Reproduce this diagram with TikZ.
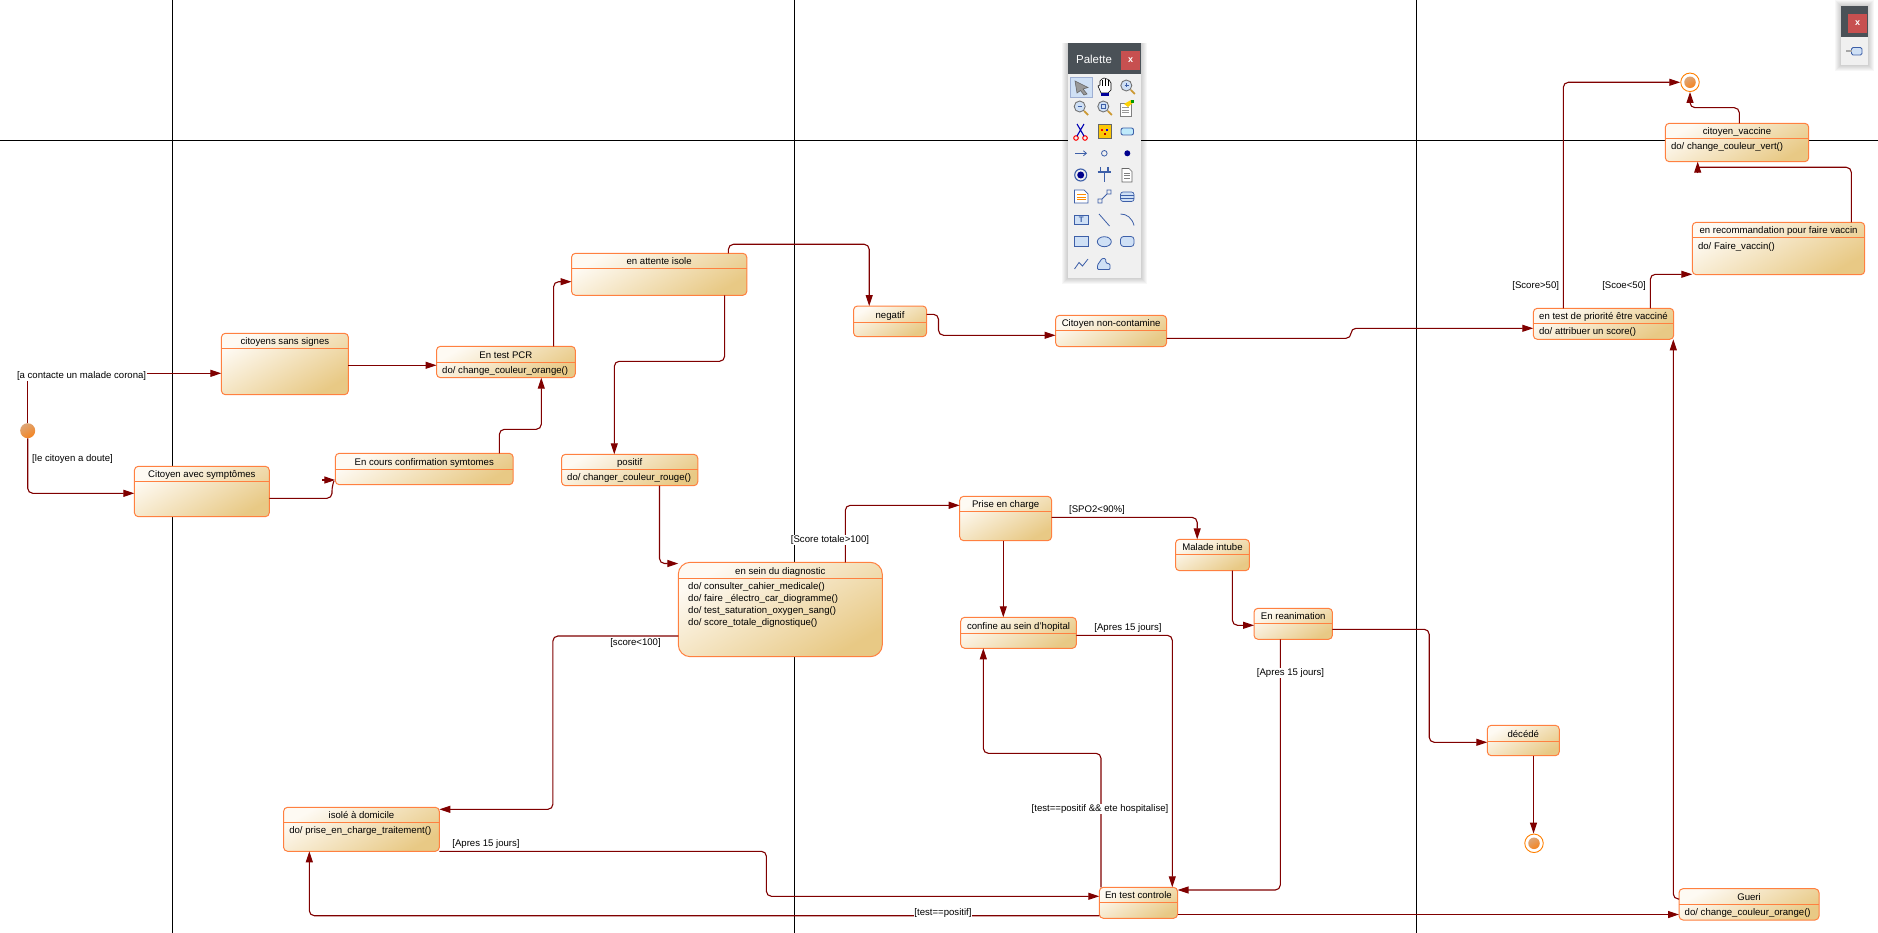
\documentclass[tikz,border=0pt]{standalone}
\usepackage{fontspec}
\setmainfont{Liberation Sans}
\usetikzlibrary{arrows.meta, positioning, calc, shadings}
\definecolor{stateline}{HTML}{FF8040}
\definecolor{statelight}{HTML}{FEFAF3}
\definecolor{statedark}{HTML}{E8C985}
\definecolor{flowred}{HTML}{800000}
\definecolor{panelbar}{HTML}{4A5157}
\definecolor{panelbg}{HTML}{F0F0F0}
\definecolor{closered}{HTML}{C75050}
\definecolor{iconblue}{HTML}{3D5FA8}
\definecolor{iconfill}{HTML}{CFE0F5}
\definecolor{dotlight}{HTML}{DDA678}
\definecolor{dotdark}{HTML}{F58420}

\tikzset{
  statebox/.style={draw=stateline, line width=1pt, rounded corners=4pt, top color=statelight,
    bottom color=statedark, shading angle=30, minimum width=10pt, inner sep=0pt, outer sep=0pt, anchor=north west},
  statesep/.style={stateline, line width=1pt},
  statetitle/.style={font=\fontsize{9.6}{11}\selectfont, inner sep=0pt, anchor=mid},
  statedo/.style={font=\fontsize{9.6}{12}\selectfont, inner sep=0pt, anchor=north west, align=left},
  flow/.style={flowred, line width=1.1pt, rounded corners=5pt},
  flowhead/.style={flow, -{Triangle[length=11pt, width=7pt]}},
  guard/.style={font=\fontsize{9.6}{11}\selectfont, inner sep=0.5pt},
  guardcut/.style={guard, fill=white},
  startdot/.style={circle, inner sep=0pt, minimum size=15pt, top color=dotlight, bottom color=dotdark, shading angle=30},
  enddot/.style={circle, draw=orange, line width=0.9pt, inner sep=0pt, minimum size=18.5pt, fill=white},
  endfill/.style={circle, inner sep=0pt, minimum size=11.5pt, top color=dotlight, bottom color=dotdark, shading angle=30},
  swimline/.style={black, line width=1pt},
  iconline/.style={iconblue, line width=0.8pt},
  iconbox/.style={iconline, fill=iconfill},
}

% #1 name, #2-#5 left top right bottom, #6 separator y, #7 title, #8 do lines
\newcommand{\statenode}[8]{%
  \node[statebox, minimum width={#4-#2}, minimum height={#5-#3}] (#1) at (#2,#3) {};
  \draw[statesep] (#2,#6) -- (#4,#6);
  \node[statetitle] (#1-title) at ({(#2+#4)/2},{#6-6.5}) {#7};
  \node[statedo] (#1-do) at ({#2+5.5},{#6+4.3}) {#8};
}

\begin{document}
\begin{tikzpicture}[x=1pt, y=-1pt]
\useasboundingbox (0,0) rectangle (1878,933);
\fill[white] (0,0) rectangle (1878,933);

% Swimlanes
\draw[swimline] (172.5,0) -- (172.5,933);
\draw[swimline] (794.5,0) -- (794.5,933);
\draw[swimline] (1416,0) -- (1416,933);
\draw[swimline] (0,140.5) -- (1878,140.5);

% States
\statenode{sanssignes}{221.4}{333.3}{348.4}{394.7}{348.3}{citoyens sans signes}{}
\statenode{testpcr}{436.5}{346.3}{575.3}{377.7}{362.3}{En test PCR}{do/ change\_couleur\_orange()}
\statenode{symptomes}{134.4}{466.3}{269.3}{516.7}{481.3}{Citoyen avec symptômes}{}
\statenode{confirmation}{335.3}{453.3}{513.2}{484.7}{469.3}{En cours confirmation symtomes}{}
\statenode{attente}{571.5}{253.3}{746.8}{295.3}{268.3}{en attente isole}{}
\statenode{positif}{561.5}{454.3}{697.8}{485.7}{469.3}{positif}{do/ changer\_couleur\_rouge()}
\statenode{negatif}{853.5}{306}{926.6}{336.7}{322.3}{negatif}{}
\statenode{noncontamine}{1055.6}{315.3}{1166.6}{346.7}{330.3}{Citoyen non-contamine}{}
\statenode{priorite}{1533.3}{308.3}{1673.7}{339.3}{323.3}{en test de priorité être vacciné}{do/ attribuer un score()}
\statenode{recommandation}{1692.3}{222.3}{1864.7}{274.7}{237.7}{en recommandation pour faire vaccin}{do/ Faire\_vaccin()}
\statenode{vaccine}{1665.3}{123.3}{1808.7}{161.7}{138.3}{citoyen\_vaccine}{do/ change\_couleur\_vert()}
\statenode{priseencharge}{959.7}{496.3}{1051.6}{540.7}{511.3}{Prise en charge}{}
\statenode{confine}{960.7}{617.3}{1076.3}{648.3}{633.3}{confine au sein d'hopital}{}
\statenode{intube}{1175.5}{539.3}{1249.4}{570.7}{554.3}{Malade intube}{}
\statenode{reanimation}{1254}{608.3}{1332.4}{639.3}{623.3}{En reanimation}{}
\statenode{decede}{1487.3}{725.3}{1559.3}{755.7}{741}{décédé}{}
\statenode{controle}{1099.3}{887.3}{1177.5}{918.3}{902.3}{En test controle}{}
\statenode{gueri}{1679}{888.7}{1819}{920}{904}{Gueri}{do/ change\_couleur\_orange()}
\statenode{isole}{283.6}{807.3}{439.3}{851.3}{822.3}{isolé à domicile}{do/ prise\_en\_charge\_traitement()}
\node[statebox, rounded corners=12pt, minimum width=204, minimum height=94.4] (diagnostic) at (678.3,562.3) {};
\draw[statesep] (678.3,578.3) -- (882.3,578.3);
\node[statetitle] (diagnostic-title) at (780.3,571.5) {en sein du diagnostic};
\node[statedo] (diagnostic-do) at (688,582.3)
  {do/ consulter\_cahier\_medicale()\\do/ faire \_électro\_car\_diogramme()\\do/ test\_saturation\_oxygen\_sang()\\do/ score\_totale\_dignostique()};

% Pseudo states
\node[startdot] (start) at (27.7,430.7) {};
\node[enddot] (endtop) at (1690,82.3) {};
\node[endfill] (endtopdot) at (endtop) {};
\node[enddot] (endbottom) at (1534,843.3) {};
\node[endfill] (endbottomdot) at (endbottom) {};

% Guards
\node[guard] (gcontact) at (81.6,376) {[a contacte un malade corona]};
\node[guard] (gdoute) at (72.5,459) {[le citoyen a doute]};
\node[guard] (gscorelow) at (635.5,643) {[score<100]};
\node[guard] (gspo) at (1097,510) {[SPO2<90\%]};
\node[guard] (gapres1) at (1128,627.7) {[Apres 15 jours]};
\node[guard] (gapres3) at (486,844) {[Apres 15 jours]};
\node[guard] (gscore50) at (1535.7,285.7) {[Score>50]};
\node[guard] (gscoe50) at (1624,285.7) {[Scoe<50]};

% Transitions
\draw[flow] (start.north) -- (start.north |- gcontact.south);
\draw[flowhead] (gcontact.east |- 0,373.3) -- (sanssignes.west |- 0,373.3);
\draw[flowhead] (start.south) |- (symptomes.west |- 0,493.3);
\draw[flowhead] (sanssignes.east |- 0,365.3) -- (testpcr.west |- 0,365.3);
\draw[flow] (symptomes.east |- 0,498.3) -| (332,486) -- (334,481);
\draw[flowhead] (confirmation.west |- 0,480) ++(-13,0) -- (confirmation.west |- 0,480);
\draw[flowhead] (499.4,0 |- confirmation.north) |- (541.3,429.3) -- (541.3,0 |- testpcr.south);
\draw[flowhead] (553.6,0 |- testpcr.north) |- (attente.west |- 0,281.7);
\draw[flowhead] (728.4,0 |- attente.north) |- (869.2,244.3) -- (869.2,0 |- negatif.north);
\draw[flowhead] (724.6,0 |- attente.south) |- (614.3,361.3) -- (614.3,0 |- positif.north);
\draw[flowhead] (negatif.east |- 0,314.3) -| (938.5,335.3) -- (noncontamine.west |- 0,335.3);
\draw[flowhead] (noncontamine.east |- 0,338.3) -| (1351,328.3) -- (priorite.west |- 0,328.3);
\draw[flowhead] (1563.3,0 |- priorite.north) |- (endtop.west);
\draw[flowhead] (1739.3,0 |- vaccine.north) |- (endtop.south |- 0,107.7) -- (endtop.south);
\draw[flow] (1851.3,0 |- recommandation.north) |- (1697.7,167.3);
\draw[flowhead] (1697.7,173.5) -- (1697.7,0 |- vaccine.south);
\draw[flowhead] (1650.3,0 |- priorite.north) |- (recommandation.west |- 0,274.3);
\draw[flowhead] (659.5,0 |- positif.south) |- (diagnostic.west |- 0,563.5);
\draw[flowhead] (845.3,0 |- diagnostic.north) |- (priseencharge.west |- 0,505.3);
\draw[flowhead] (diagnostic.west |- 0,636) -| (552.9,809.3) -- (isole.east |- 0,809.3);
\draw[flowhead] (priseencharge.east |- 0,517.4) -| (1197.2,0 |- intube.north);
\draw[flowhead] (1003.3,0 |- priseencharge.south) -- (1003.3,0 |- confine.north);
\draw[flowhead] (1232.4,0 |- intube.south) |- (reanimation.west |- 0,625.3);
\draw[flowhead] (reanimation.east |- 0,629.3) -| (1429.2,742.3) -- (decede.west |- 0,742.3);
\draw[flowhead] (1280.3,0 |- reanimation.south) |- (controle.east |- 0,890);
\draw[flowhead] (1533.5,0 |- decede.south) -- (1533.5,0 |- endbottom.north);
\draw[flowhead] (confine.east |- 0,635.3) -| (1172.3,0 |- controle.north);
\draw[flowhead] (1101,0 |- controle.north) |- (983.3,753.3) -- (983.3,0 |- confine.south);
\draw[flowhead] (isole.east |- 0,851.3) -| (766.4,896.3) -- (controle.west |- 0,896.3);
\draw[flowhead] (controle.west |- 0,915.7) -| (309.3,0 |- isole.south);
\draw[flowhead] (controle.east |- 0,914.5) -- (gueri.west |- 0,914.5);
\draw[flowhead] (gueri.west |- 0,899) -| (1673.3,0 |- priorite.south);

% Guards on top of a line
\node[guardcut] (gscore100) at (830,540) {[Score totale>100]};
\node[guardcut] (gapres2) at (1290.5,672.7) {[Apres 15 jours]};
\node[guardcut] (ghospital) at (1100,808.7) {[test==positif \&\& ete hospitalise]};
\node[guardcut] (gpositif) at (943,913) {[test==positif]};

% Palette
\foreach \s in {1,...,6} {
  \fill[black, opacity=.03] (1068-\s,43.3) rectangle (1141+\s,278.3+\s);
}
\fill[panelbg] (1068,43.3) rectangle (1141,278.3);
\fill[panelbar] (1068,43.3) rectangle (1141,74);
\fill[closered] (1121,51) rectangle (1140,70);
\node[white, font=\fontsize{11.5}{12}\selectfont, inner sep=0pt] (palettetitle) at (1094,59) {Palette};
\node[white, font=\fontsize{9}{10}\selectfont\bfseries, inner sep=0pt] (paletteclose) at (1130.5,60) {x};
% Palette icons, row by row
\fill[iconfill] (1070,77) rectangle (1092.5,97.5); \draw[iconblue!50, line width=.5pt] (1070,77) rectangle (1092.5,97.5);
\filldraw[draw=black!60, fill=black!40, line width=.6pt] (1075,81) -- (1088,87.5) -- (1083,89) -- (1087,94) -- (1084,95) -- (1080.5,90.5) -- (1077,93) -- cycle;
\filldraw[draw=black, fill=white, line width=.6pt] (1098,86) -- (1100,85) -- (1100,81) -- (1102,79) -- (1104,78) -- (1107,79) -- (1109,80) -- (1111,83) -- (1111,90) -- (1108,93) -- (1101,93) -- cycle;
\draw[black, line width=.5pt] (1102,80) -- (1102,86) (1105,79) -- (1105,86) (1108,80) -- (1108,86);
\fill[blue!60!black] (1100.5,93) rectangle (1109,96);
\foreach \ix/\iy in {1127.3/86.5, 1080.7/107.5, 1104.3/107.5} {
  \filldraw[draw=black!55, fill=iconfill, line width=.9pt] (\ix-1,\iy-1) circle (5.5pt);
  \draw[brown!80!yellow, line width=1.8pt] (\ix+3.5,\iy+3.5) -- (\ix+7.5,\iy+7.5);
}
\draw[iconblue, line width=.8pt] (1124.5,85.5) -- (1128.5,85.5) (1126.5,83.5) -- (1126.5,87.5);
\draw[iconblue, line width=.8pt] (1077.5,106.5) -- (1082,106.5);
\draw[iconblue, line width=.6pt] (1101.5,104.5) rectangle (1105,108.5);
\filldraw[draw=black!50, fill=white, line width=.5pt] (1120,103) rectangle (1131,116);
\draw[black!40, line width=.4pt] (1122,107.5) -- (1129,107.5) (1122,110) -- (1129,110) (1122,112.5) -- (1129,112.5);
\fill[yellow!70!orange] (1124,104) -- (1131,100) -- (1134,102) -- (1128,107) -- cycle;
\fill[green!60!black] (1131,100) rectangle (1134,103);
\draw[red, line width=1pt] (1076,138) circle (2.3pt) (1085,138) circle (2.3pt);
\draw[blue!70!black, line width=1.1pt] (1077,136) -- (1084,124) (1084,136) -- (1077,124);
\filldraw[draw=black!60, fill=yellow!60!orange, line width=.5pt] (1098,124) rectangle (1111,138);
\fill[red] (1101,129) rectangle (1103,131); \fill[blue] (1106,129) rectangle (1108,131); \fill[red!70!black] (1103.5,133) rectangle (1105.5,135);
\filldraw[draw=iconblue, fill=cyan!25, line width=.9pt, rounded corners=2pt] (1121,128) rectangle (1133.5,135);
\draw[iconline, -{Straight Barb[length=3pt, width=5pt]}] (1075,153.3) -- (1087,153.3);
\draw[iconline] (1104.3,153.3) circle (2.8pt);
\fill[blue!55!black] (1127.3,153.3) circle (3pt);
\draw[iconblue, line width=1.1pt] (1080.7,175) circle (6pt);
\fill[blue!55!black] (1080.7,175) circle (3.5pt);
\draw[iconblue, line width=1.2pt] (1097.5,172) -- (1111,172) (1104.3,172) -- (1104.3,182) (1100.5,167) -- (1100.5,172) (1108,167) -- (1108,172);
\filldraw[draw=black!60, fill=white, line width=.6pt] (1122,168.5) -- (1129,168.5) -- (1132,171.5) -- (1132,182) -- (1122,182) -- cycle;
\draw[black!50, line width=.4pt] (1124,173) -- (1130,173) (1124,175.5) -- (1130,175.5) (1124,178) -- (1130,178);
\filldraw[draw=iconblue, fill=white, line width=.7pt] (1074.5,190) -- (1084,190) -- (1088,194) -- (1088,203) -- (1074.5,203) -- cycle;
\draw[orange!90!yellow, line width=.8pt] (1077,194.5) -- (1085.5,194.5) (1077,197) -- (1085.5,197) (1077,199.5) -- (1085.5,199.5);
\draw[iconline] (1098,203) rectangle (1102,199) (1107,194) rectangle (1111,190) (1102,199) -- (1107,194);
\filldraw[draw=iconblue, fill=iconfill, line width=.7pt, rounded corners=2.5pt] (1120.5,192) rectangle (1134,201.5);
\draw[iconblue, line width=.5pt] (1121,195) -- (1133.5,195) (1121,198) -- (1133.5,198);
\filldraw[draw=iconblue, fill=iconfill, line width=.8pt] (1074.5,215) rectangle (1088,224.5);
\node[iconblue, font=\fontsize{8}{8}\selectfont\bfseries, inner sep=0pt] (paletteT) at (1081.2,219.8) {T};
\draw[iconline] (1099,214) -- (1109.5,226);
\draw[iconline] (1120.5,214) .. controls (1127,214) and (1132,218) .. (1134,225.5);
\filldraw[iconbox] (1074.5,236.5) rectangle (1088,246.5);
\filldraw[iconbox] (1104.3,241.7) ellipse (7pt and 5pt);
\filldraw[iconbox, rounded corners=3pt] (1120.5,236.5) rectangle (1134,246.5);
\draw[iconline] (1074.5,269) -- (1079,262.5) -- (1082.5,266) -- (1088,259);
\draw[iconbox, rounded corners=1pt] (1097.5,269.5) -- (1097.5,265) -- (1102,258.5) -- (1105.5,258.5) -- (1106,263) -- (1110,264) -- (1110,269.5) -- cycle;

% Small panel
\foreach \s in {1,...,6} {
  \fill[black, opacity=.03] (1841-\s,6-\s) rectangle (1868+\s,65+\s);
}
\fill[panelbg] (1841,6) rectangle (1868,65);
\fill[panelbar] (1841,6) rectangle (1868,36.7);
\fill[closered] (1848,14) rectangle (1867,32.7);
\node[white, font=\fontsize{9}{10}\selectfont\bfseries, inner sep=0pt] (smallclose) at (1857.5,23.5) {x};
\filldraw[draw=iconblue, fill=iconfill, line width=.8pt, rounded corners=1.5pt] (1851.5,47.5) rectangle (1862,55);
\fill[black!35] (1846,50) rectangle (1851.5,52.5);
\end{tikzpicture}
\end{document}
